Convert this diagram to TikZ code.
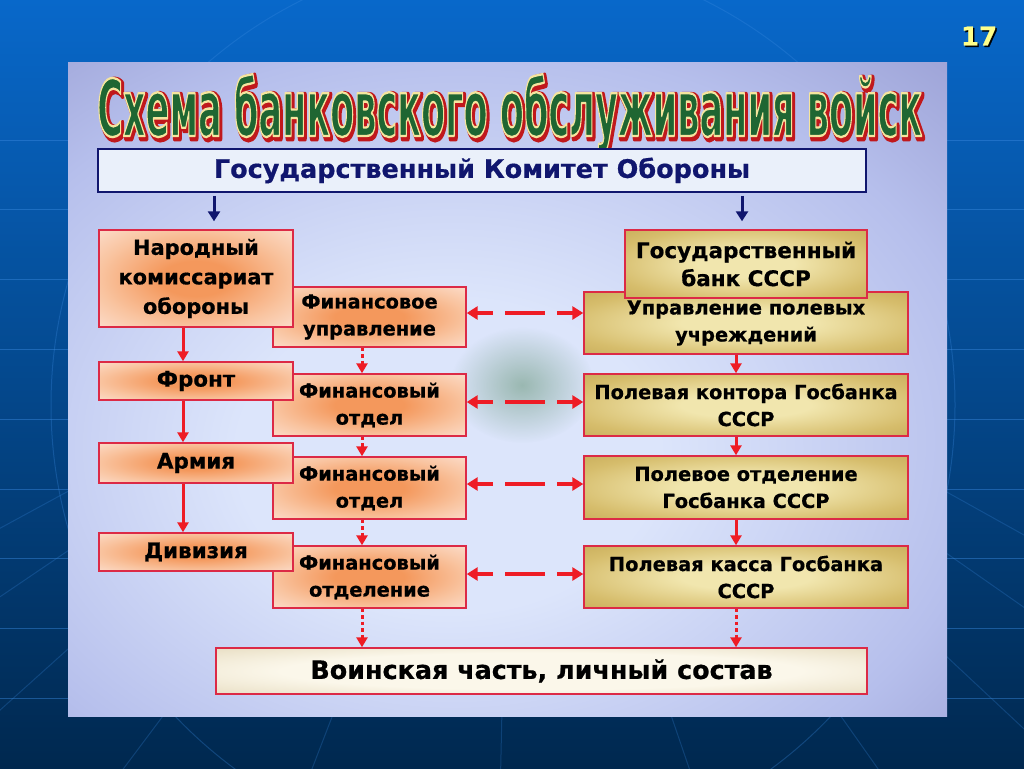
\documentclass[tikz,border=0pt]{standalone}
\usepackage{fontspec}
\setmainfont{DejaVu Sans}
\newfontfamily\bx{DejaVu Sans}[BoldFeatures={FakeBold=0.6}]
\newfontfamily\ttlfont{DejaVu Sans}
\usetikzlibrary{arrows.meta,fadings}
\tikzfading[name=blobfade, inner color=transparent!0, outer color=transparent!100]
\definecolor{bgtop}{HTML}{0868CA}
\definecolor{bgmid}{HTML}{00468E}
\definecolor{bgbot}{HTML}{00284F}
\definecolor{bgline}{HTML}{3A8AE0}
\definecolor{pin}{HTML}{DCE5FB}
\definecolor{pmid}{HTML}{B6BFEC}
\definecolor{pout}{HTML}{8A8DC6}
\definecolor{oin}{HTML}{F4985C}
\definecolor{omid}{HTML}{F9C4A0}
\definecolor{oout}{HTML}{FDEAE2}
\definecolor{gin}{HTML}{F1E6AE}
\definecolor{gmid}{HTML}{D6BD6C}
\definecolor{gout}{HTML}{BA9B46}
\definecolor{vin}{HTML}{FBF7EA}
\definecolor{vout}{HTML}{D2C196}
\definecolor{gkofill}{HTML}{EAF0FA}
\definecolor{navy}{HTML}{10166E}
\definecolor{bred}{HTML}{DC2A46}
\definecolor{ared}{HTML}{EE1C25}
\definecolor{tgreen}{HTML}{1F6632}
\definecolor{tred}{HTML}{C0181C}
\definecolor{numyel}{HTML}{FFFF8A}
\definecolor{blob}{HTML}{6E9A80}
\pgfdeclareradialshading{panelshade}{\pgfpoint{-4bp}{-6bp}}{color(0bp)=(pin); color(12bp)=(pin); color(30bp)=(pmid); color(47bp)=(pout); color(80bp)=(pout)}
\pgfdeclareradialshading{orshade}{\pgfpoint{0bp}{0bp}}{color(0bp)=(oin); color(9bp)=(oin); color(25bp)=(omid); color(42bp)=(oout); color(80bp)=(oout)}
\pgfdeclareradialshading{goshade}{\pgfpoint{0bp}{0bp}}{color(0bp)=(gin); color(10bp)=(gin); color(28bp)=(gmid); color(48bp)=(gout); color(80bp)=(gout)}
\pgfdeclareradialshading{voshade}{\pgfpoint{0bp}{0bp}}{color(0bp)=(vin); color(20bp)=(vin); color(55bp)=(vout); color(80bp)=(vout)}
\newcommand\ttltxt{\resizebox{825pt}{62pt}{\ttlfont\bfseries\fontsize{80}{80}\selectfont Схема банковского обслуживания войск}}
\newcommand\ttlgreen{{\special{pdf:literal direct 2 Tr 2.4 w 1 j 0.96 0.90 0.62 RG}\ttltxt\special{pdf:literal direct 0 Tr}}}
\newcommand\ttlshadow{{\special{pdf:literal direct 2 Tr 7 w 1 j}\ttltxt\special{pdf:literal direct 0 Tr}}}
\tikzset{
  x=1pt, y=-1pt,
  basebox/.style={draw=bred, line width=1.4pt, inner sep=0pt, align=center, text=black},
  obox/.style={basebox, shade, shading=orshade},
  gbox/.style={basebox, shade, shading=goshade},
  vbox/.style={basebox, shade, shading=voshade},
  fsmall/.style={font=\bx\bfseries\fontsize{19.4}{27}\selectfont},
  fmid/.style={font=\bx\bfseries\fontsize{21.4}{27}\selectfont},
  fbig/.style={font=\bx\bfseries\fontsize{20.9}{29.5}\selectfont},
  navyarr/.style={draw=navy, line width=3pt, -{Triangle[length=10pt,width=12pt]}},
  redarr/.style={draw=ared, line width=3pt, -{Triangle[length=10pt,width=11pt]}},
  dotarr/.style={redarr, dash pattern=on 3.5pt off 3pt},
  dasharr/.style={draw=ared, line width=3.6pt, {Triangle[length=11pt,width=13pt]}-{Triangle[length=11pt,width=13pt]}, dash pattern=on 16pt off 12pt on 40pt off 12pt on 30pt},
  ttl/.style={anchor=base west, inner sep=0pt},
}
\begin{document}
\begin{tikzpicture}
\useasboundingbox (0,0) rectangle (1024,768);
% background
\shade[top color=bgtop, middle color=bgmid, bottom color=bgbot] (0,0) rectangle (1024,768);
\foreach \yy in {140,209,279,349,419,489,558,628,698}
  \draw[bgline, opacity=0.45, line width=1pt] (0,\yy) -- (1024,\yy);
\draw[bgline, opacity=0.3, line width=1pt] (503,405) circle [radius=452pt];
\foreach \xx in {-500,-300,-100,100,300,500,700,900,1100,1300,1500}
  \draw[bgline, opacity=0.25, line width=1pt] (512,250) -- (\xx,800);
% panel
\shade[shading=panelshade] (68,62) rectangle (947,716);
\fill[blob, path fading=blobfade, opacity=0.6] (522,385) ellipse [x radius=72pt, y radius=58pt];
% title
\node[ttl, text=tred] (tshadow) at (99,138) {\ttlshadow};
\node[ttl, text=tgreen] (title) at (97,136) {\ttlgreen};
% slide number
\node[inner sep=0pt, font=\bx\bfseries\fontsize{26}{26}\selectfont, text=black] (numsh) at (980.5,37.5) {17};
\node[inner sep=0pt, font=\bx\bfseries\fontsize{26}{26}\selectfont, text=numyel] (num) at (979,36) {17};
% GKO
\node[draw=navy, line width=1.6pt, fill=gkofill, minimum width=768pt, minimum height=43pt, inner sep=0pt, text=navy, font=\bx\bfseries\fontsize{25.5}{30}\selectfont] (gko) at (482,170.5) {Государственный Комитет Обороны};
% middle column (drawn first, left column overlaps)
\node[obox, fsmall, minimum width=193pt, minimum height=60pt] (fu) at (369.5,317) {Финансовое\\управление};
\node[obox, fsmall, minimum width=193pt, minimum height=62pt] (fo1) at (369.5,405) {Финансовый\\отдел};
\node[obox, fsmall, minimum width=193pt, minimum height=62pt] (fo2) at (369.5,488) {Финансовый\\отдел};
\node[obox, fsmall, minimum width=193pt, minimum height=62pt] (fo3) at (369.5,577) {Финансовый\\отделение};
% left column
\node[obox, fbig, minimum width=194pt, minimum height=97pt] (nko) at (196,278.5) {Народный\\комиссариат\\обороны};
\node[obox, fmid, minimum width=194pt, minimum height=38pt] (front) at (196,381) {Фронт};
\node[obox, fmid, minimum width=194pt, minimum height=40pt] (army) at (196,463) {Армия};
\node[obox, fmid, minimum width=194pt, minimum height=38pt] (div) at (196,552) {Дивизия};
% right column
\node[gbox, fsmall, minimum width=324pt, minimum height=62pt] (upr) at (746,323) {Управление полевых\\учреждений};
\node[gbox, font=\bx\bfseries\fontsize{21.5}{28}\selectfont, minimum width=242pt, minimum height=68pt] (gb) at (746,264) {Государственный\\банк СССР};
\node[gbox, fsmall, minimum width=324pt, minimum height=62pt] (kont) at (746,405) {Полевая контора Госбанка\\СССР};
\node[gbox, fsmall, minimum width=324pt, minimum height=63pt] (otd) at (746,487.5) {Полевое отделение\\Госбанка СССР};
\node[gbox, fsmall, minimum width=324pt, minimum height=62pt] (kassa) at (746,577) {Полевая касса Госбанка\\СССР};
% bottom
\node[vbox, font=\bx\bfseries\fontsize{25.4}{30}\selectfont, minimum width=651pt, minimum height=46pt] (voin) at (541.5,671) {Воинская часть, личный состав};
% guide coordinates
\coordinate (nL) at (214,0);
\coordinate (nR) at (742,0);
\coordinate (cL) at (183,0);
\coordinate (cM) at (362,0);
\coordinate (cR) at (736,0);
\coordinate (h1) at (0,313);
\coordinate (h2) at (0,402);
\coordinate (h3) at (0,484);
\coordinate (h4) at (0,574);
% navy arrows
\draw[navyarr, shorten <=3pt, shorten >=8pt] (gko.south -| nL) -- (nko.north -| nL);
\draw[navyarr, shorten <=3pt, shorten >=8pt] (gko.south -| nR) -- (gb.north -| nR);
% left solid arrows
\draw[redarr] (nko.south -| cL) -- (front.north -| cL);
\draw[redarr] (front.south -| cL) -- (army.north -| cL);
\draw[redarr] (army.south -| cL) -- (div.north -| cL);
% middle dotted arrows
\draw[dotarr] (fu.south -| cM) -- (fo1.north -| cM);
\draw[dotarr] (fo1.south -| cM) -- (fo2.north -| cM);
\draw[dotarr] (fo2.south -| cM) -- (fo3.north -| cM);
\draw[dotarr] (fo3.south -| cM) -- (voin.north -| cM);
% right arrows
\draw[redarr] (upr.south -| cR) -- (kont.north -| cR);
\draw[redarr] (kont.south -| cR) -- (otd.north -| cR);
\draw[redarr] (otd.south -| cR) -- (kassa.north -| cR);
\draw[dotarr] (kassa.south -| cR) -- (voin.north -| cR);
% horizontal dashed
\draw[dasharr] (fu.east |- h1) -- (upr.west |- h1);
\draw[dasharr] (fo1.east |- h2) -- (kont.west |- h2);
\draw[dasharr] (fo2.east |- h3) -- (otd.west |- h3);
\draw[dasharr] (fo3.east |- h4) -- (kassa.west |- h4);
\end{tikzpicture}
\end{document}
